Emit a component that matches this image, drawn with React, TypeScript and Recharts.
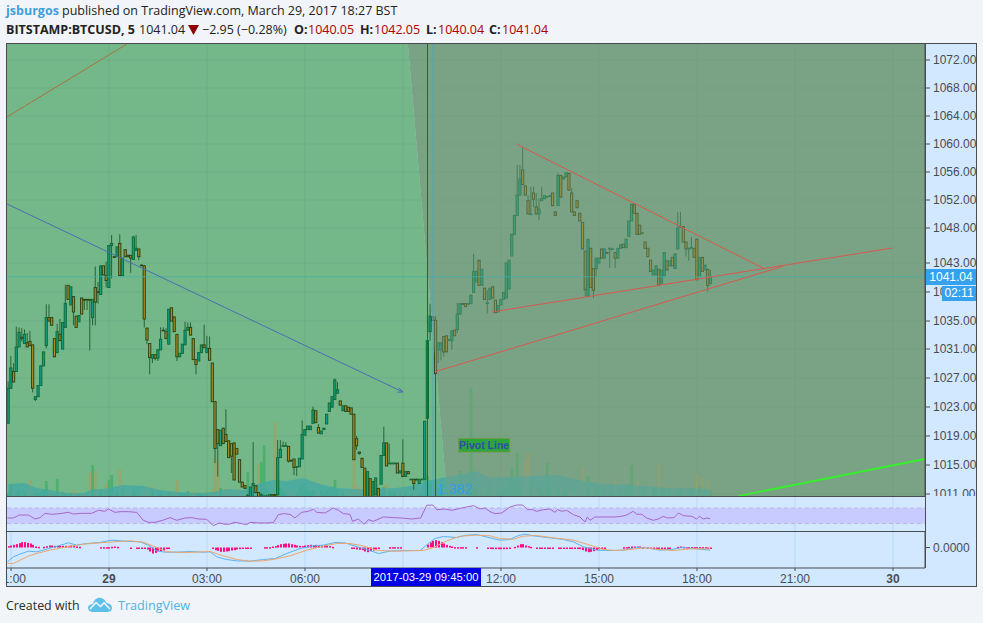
import React from "react";
import { ComposedChart, Line, Area, Bar, XAxis, YAxis, CartesianGrid, ReferenceLine, ReferenceArea, ReferenceDot } from "recharts";

const opens = [
1020.1,1025.1,1027.5,1027.5,1031,1032.4,1031.5,1031.6,1031.8,1031.3,
1023.5,1023.9,1025.5,1028.3,1031.2,1035.2,1035.2,1032.2,1030.2,1032.8,
1030.7,1033.8,1039.8,1037,1038.2,1035.4,1034.6,1038,1037.8,1037.8,
1037.8,1035.2,1039.5,1038.9,1038.5,1042.6,1041.2,1039.5,1045.5,1043.9,
1043.9,1045.8,1041.2,1044.9,1044.1,1044.1,1043.5,1044.8,1045,1042.7,
1042.6,1033.7,1031.5,1029.4,1029.9,1029.4,1030.6,1033.4,1033.2,1031.4,
1036.6,1035.3,1032.8,1029.6,1030.1,1031.3,1033.4,1033.8,1032.2,1029.2,
1029,1030.2,1031.3,1030.2,1030.8,1028.7,1023.2,1019.2,1016.9,1019.4,
1018.5,1017.6,1017.2,1017.3,1016.5,1014.9,1011.7,1011.2,1009.7,1009.6,
1011.2,1011.2,1010.2,1009.9,1009.7,1009.7,1009.6,1009.9,1009.9,1009.9,
1015.2,1016.9,1016.9,1016.8,1014.8,1015,1013.9,1013.9,1015,1018.4,
1019.2,1019.2,1020.1,1021.9,1019.5,1018.6,1019.2,1020,1021.8,1022.4,
1023.5,1024.4,1023.3,1021.9,1022.6,1022.4,1022.3,1021.4,1017.9,1016,
1015.1,1013.7,1009.6,1012.2,1009.6,1009.9,1010.8,1011.4,1015.5,1017.3,
1014.4,1014.4,1014.4,1014.4,1013,1014.4,1012.5,1013.2,1012.1,1012.1,
1012.1,1011.5,1012.1,1012.1,1020.8,1033.2,1035.3,1034.8,1030.6,1030.6,
1032.5,1032.6,1031.9,1031.9,1033.4,1033.5,1035.7,1037.2,1037.2,1037.2,
1037.2,1038.8,1040.3,1043.4,1039.8,1039.4,1037.3,1037.8,1039.6,1037.7,
1036,1037,1037.8,1038,1039.3,1044,1047.1,1049.8,1052.7,1056.3,
1054,1051.9,1050,1053,1051,1050,1051.9,1052.2,1052.5,1052.6,
1053,1050.3,1051.2,1055.5,1055,1055.3,1055.8,1053,1050.3,1051.9,
1050.1,1048.8,1044.7,1038.2,1045.1,1042.2,1042.2,1043,1045,1043.7,
1044.5,1045.1,1045,1044.5,1043.7,1045.1,1045.7,1045.2,1046.8,1049,
1051.4,1050.1,1048.4,1047.3,1046,1045.1,1043.4,1041.3,1041.3,1042.1,
1040.1,1041.2,1043.3,1042.6,1043.8,1042.2,1045,1048.2,1048.2,1046,
1045.1,1045.2,1045.1,1046.4,1041.1,1043.8,1042,1042.1,1040.05];

const closes = [
1025.1,1028,1026,1031,1033.1,1032.2,1032.8,1031,1031.2,1025.1,
1023.9,1025.5,1028.3,1030.3,1035.2,1034.7,1034.1,1029.6,1033.2,1031.9,
1034.5,1037.2,1037.8,1039.6,1036,1033.8,1035.5,1035.7,1037.7,1037.7,
1037.7,1037.8,1037.4,1038.8,1042.6,1041.3,1040.5,1045.5,1045.8,1043.8,
1045.3,1041.2,1043.7,1043.9,1043.9,1043.7,1046.7,1045.1,1043.9,1042.6,
1035,1032,1029.5,1029.9,1029.4,1030.6,1032.1,1033.3,1032.2,1036.4,
1034.7,1033.2,1029.6,1030.1,1031.4,1033.4,1033.8,1032.7,1029.2,1028.5,
1030.2,1031.3,1030.9,1030.8,1029.1,1023.2,1016.5,1017.2,1019.1,1017.2,
1017.5,1015.2,1015.4,1012,1015.7,1011.7,1011,1010.8,1009.8,1011,
1011.5,1010.2,1009.6,1009.9,1009.7,1009.7,1009.9,1009.7,1009.8,1015.2,
1016.4,1016.9,1016.9,1014.7,1014.7,1013.8,1013.9,1015.1,1018.5,1019.2,
1019.7,1019.7,1022,1020.2,1018.7,1019,1019.4,1021.4,1023,1023.9,
1026.3,1024.9,1022.7,1022.6,1021.8,1021.8,1021.4,1014.9,1016.9,1015.8,
1013.8,1009.6,1013.2,1009.6,1011.8,1012.3,1009.6,1015.5,1017.3,1014,
1014.4,1014.4,1014.4,1013,1013.3,1012.5,1013.2,1012.9,1012.1,1011.5,
1012,1012.1,1012.1,1020.4,1031.9,1035.4,1034.8,1027.2,1031.6,1031.6,
1030.3,1030.3,1032.1,1033.3,1032.6,1035.7,1037.2,1037.1,1036.8,1037.2,
1038.4,1041.8,1041.8,1039.8,1042.1,1037.8,1037.3,1039.4,1038,1035.9,
1036.9,1037.8,1038.8,1043,1043.4,1047.1,1049.8,1052.7,1055,1054.2,
1052.7,1050,1050,1052.1,1050,1050.7,1052.2,1052.6,1052.5,1052.6,
1051.2,1049.8,1055.5,1052.4,1055.3,1055.9,1053.4,1050.3,1049.8,1050.9,
1049,1045,1039.2,1046.4,1039.5,1039.1,1043.7,1043.7,1043.7,1045,
1044.4,1045.1,1045,1043.7,1045.1,1045.6,1045.2,1046.4,1049,1051.4,
1050.1,1047.1,1047.1,1047.3,1045.1,1043.9,1041.8,1042,1042.6,1039.8,
1042,1044.5,1042,1043.3,1042.6,1044.3,1048,1048.2,1046,1045,
1045.1,1045.2,1043.8,1040.6,1043.8,1041.8,1042.7,1039.8,1041.04];

const highs = [
1026.1,1029.7,1028.7,1033.9,1033.8,1033.7,1033.5,1033,1033.3,1031.3,
1023.9,1025.5,1028.3,1030.3,1037.1,1037.1,1035.2,1032.2,1034.3,1035,
1034.5,1039.9,1039.8,1039.6,1038.2,1035.4,1035.5,1038,1037.8,1037.8,
1037.8,1037.8,1042.5,1040.3,1042.6,1042.6,1043.2,1045.5,1047,1044,
1045.3,1047.1,1043.7,1044.9,1044.1,1044.1,1046.9,1047,1045,1042.8,
1042.7,1033.7,1031.5,1029.9,1029.9,1030.6,1033.8,1033.8,1033.7,1036.4,
1036.6,1035.3,1032.8,1030.1,1031.4,1034.6,1034.5,1034.5,1032.2,1029.2,
1030.2,1031.3,1034.2,1032.6,1032.5,1028.7,1023.2,1019.2,1019.1,1019.4,
1022.1,1017.6,1017.2,1017.3,1016.5,1014.9,1011.7,1011.2,1010,1011,
1017.4,1011.2,1010.2,1010.1,1009.9,1009.9,1009.9,1009.9,1010,1017.7,
1017.7,1017.5,1017.4,1016.8,1014.9,1015,1014,1015.1,1020.5,1019.2,
1019.7,1019.7,1022.5,1021.9,1020,1019,1019.4,1021.4,1023,1023.9,
1026.5,1026,1023.3,1022.6,1022.6,1022.4,1022.3,1021.4,1018.3,1016,
1015.1,1013.7,1013.2,1012.2,1011.8,1012.3,1010.8,1015.5,1019.6,1017.3,
1017.2,1014.5,1014.5,1014.4,1013.3,1017.8,1013.2,1013.2,1012.2,1012.1,
1012.2,1012.1,1012.2,1020.4,1031.9,1037.2,1035.3,1035.4,1031.6,1031.6,
1032.5,1032.6,1032.1,1033.3,1033.4,1037.3,1037.2,1037.3,1037.2,1037.3,
1038.4,1044.3,1041.8,1043.4,1042.1,1039.4,1039.1,1039.4,1039.6,1037.7,
1036.9,1037.8,1038.8,1043,1043.4,1047.1,1049.8,1057,1057,1059.5,
1054,1052.7,1053.9,1053.9,1053,1052.2,1053.9,1052.6,1052.6,1052.7,
1053,1050.3,1055.9,1055.5,1055.3,1055.9,1055.8,1053.7,1050.3,1051.9,
1050.1,1048.8,1044.7,1046.4,1045.1,1042.2,1043.7,1043.7,1045,1045,
1044.6,1045.2,1045.1,1044.5,1045.1,1045.6,1045.7,1046.4,1049,1051.4,
1051.4,1050.1,1048.4,1047.4,1046,1045.1,1043.4,1042,1042.6,1042.1,
1042,1044.5,1043.3,1043.3,1043.8,1044.3,1050.3,1050.3,1048.2,1046,
1045.2,1046.7,1045.1,1046.4,1043.8,1043.8,1042.7,1042.1,1042.05];

const lows = [
1020.1,1025.1,1026,1027.5,1031,1031.8,1031.5,1031,1031.2,1024.5,
1023.3,1023.9,1025.5,1028.3,1030.8,1034.7,1034.1,1029.6,1030.2,1031.9,
1030.7,1033.8,1037.8,1037,1034.1,1033.8,1034.6,1035.7,1036.3,1036.3,
1030.5,1034.1,1034.1,1037.2,1038.5,1041.3,1039.5,1039.5,1040.8,1043.8,
1043.9,1041.2,1041.2,1043.9,1043.9,1041.6,1043.5,1044.8,1043.4,1042.6,
1033.8,1031.4,1027.1,1028.7,1029.1,1029,1030.6,1033.3,1032.2,1031.4,
1034.7,1033.2,1029,1029.6,1030.1,1031.3,1033.4,1032.7,1029.2,1027.1,
1029,1030.2,1030.9,1030.2,1029.1,1023.2,1014.4,1012.5,1016.9,1017.2,
1017.5,1015.2,1013,1012,1015.7,1011.7,1011,1010.8,1009.6,1009.6,
1009.6,1010.2,1009.6,1009.7,1009.6,1009.6,1009.6,1009.7,1009.7,1009.8,
1015.2,1016.8,1016.8,1014.5,1014.7,1012.7,1012.6,1013.9,1015,1018.4,
1019.2,1019.2,1020.1,1020.2,1018.7,1018.6,1019.2,1020,1021.8,1022.4,
1023.5,1024.4,1022.7,1021.9,1021.8,1021.8,1021.4,1014.9,1016.3,1015.6,
1013.8,1009.6,1009.6,1009.6,1009.6,1009.9,1009.6,1011.4,1015.5,1014,
1014.3,1014.3,1014.3,1013,1013,1012.5,1012.5,1012.9,1012,1010.6,
1012,1011.5,1012,1012.1,1020.8,1031.9,1034.8,1009.7,1028.7,1029.1,
1029.6,1030.3,1031.9,1030.6,1032.6,1033,1035.7,1037.1,1036.8,1037.1,
1037.2,1038.8,1040.3,1039.8,1039.8,1037.8,1035.8,1037.8,1038,1035.9,
1036,1037,1037.8,1038,1039.3,1044,1047.1,1049.8,1052.7,1054.2,
1052.7,1050,1049.9,1051,1050,1049.1,1051.9,1052.2,1052.4,1052.5,
1051.2,1049.8,1051.2,1052.4,1055,1055.3,1053.4,1050.3,1049.8,1050.9,
1049,1045,1038.2,1038.2,1039.5,1038,1041,1043,1043.7,1043.7,
1044.4,1042.3,1044.9,1042.3,1043.7,1045.1,1045.2,1045.2,1046.8,1049,
1050.1,1047.1,1047.1,1047.2,1045.1,1043.9,1041.8,1041.3,1041.3,1039.8,
1040.1,1041.2,1042,1042.6,1042.6,1042.2,1045,1048.1,1046,1043.9,
1043.3,1045.1,1043.8,1040.6,1041.1,1041.8,1042,1038.9,1040.04];

const volumes = [
3,11,5,4,6,3,4,2,16,5,
3,2,4,6,15,4,2,5,17,3,
4,2,3,3,5,4,2,3,2,1,
23,31,26,6,5,4,13,16,21,3,
5,27,7,4,2,3,6,2,3,1,
8,5,10,5,3,2,4,2,3,3,
4,3,16,3,2,2,5,3,4,4,
3,2,4,3,3,6,39,36,8,5,
8,6,4,5,7,5,3,4,24,6,
4,3,33,34,51,7,5,4,74,25,
8,5,4,6,3,6,4,9,12,7,
5,4,6,3,2,6,3,5,7,9,
16,6,4,3,5,4,6,36,10,8,
7,26,8,14,6,5,4,7,9,12,
5,3,4,6,3,8,3,2,2,6,
3,2,3,18,20,12,9,15,8,6,
7,5,4,6,5,6,25,5,4,6,
108,9,6,5,4,8,5,6,7,17,
6,5,4,8,12,28,10,43,9,6,
37,43,12,6,5,7,4,3,33,6,
5,7,8,12,6,4,9,5,4,6,
9,29,14,20,10,8,7,5,4,6,
3,2,3,17,5,6,3,8,12,31,
10,14,6,5,3,4,9,7,8,32,
6,5,9,7,4,3,5,6,4,6,
3,8,6,23,9,18,5,15,6];

const macdHist = [
.4,.6,.8,1,1.3,1.6,1.6,1.4,1.2,.8,
.3,.2,0,.2,.4,.6,.6,.5,.5,.5,
.5,.5,.5,.6,.5,.3,.2,0,0,0,
0,0,0,0,.1,.1,.1,.1,.2,.3,
.2,0,0,0,0,-.1,0,-.1,-.1,-.1,
-.2,-.6,-1.2,-1.8,-1.6,-1.2,-1.2,-.9,-.5,-.2,
0,0,0,0,0,0,0,0,0,0,
0,0,0,0,0,-.4,-.8,-1,-1.3,-1.3,
-1.2,-1.1,-.9,-.8,-.6,-.5,-.4,-.3,-.2,-.1,
0,0,0,0,.1,.1,.1,.3,.4,.7,
1,1.1,1.2,1.2,1,.8,.6,.5,.4,.6,
.7,.8,.7,.8,.7,.6,.6,.5,.4,.2,
0,0,0,0,0,0,-.2,-.4,-.6,-.7,
-.8,-1.2,-1.4,-1.1,-.9,-.6,-.3,0,0,0,
.1,.1,.1,.1,.1,0,0,0,0,0,
0,0,0,0,.9,1.5,2,2.2,2,1.6,
1.2,.8,.5,.3,.1,.1,.1,.1,.1,0,
0,0,.1,0,0,0,-.1,-.4,-.5,-.5,
-.5,-.5,-.5,-.5,-.2,0,.2,.6,1,1,
.6,.4,.2,0,-.2,-.2,-.2,-.2,-.2,-.2,
-.2,0,-.1,-.1,-.1,-.1,-.2,-.3,-.4,-.4,
-.5,-.8,-1.2,-1.4,-1.3,-1.1,-.8,-.5,-.3,-.2,
0,0,0,0,0,0,.1,.1,.2,.3,
.3,.3,.3,.1,0,-.2,-.2,-.3,-.4,-.4,
-.3,-.3,-.3,-.2,0,0,.2,.3,.2,.1,
.1,.1,.1,.1,.1,.1,.1,-.1,-.1];

const volMaX = [-37,-31,-26.6,-21.7,-15.6,-9.4,-5.7,-2,1.5,5.2,12.6,18.7,24.9,33.4,38.3,43.2,49.3,55.5,60.4,65.2,71.4,76.2,83.6,91,97,105.5,110.6,116.7,124,126.5,134.5,140,146,155.8,164.4,170.6,180.4,192.6,204.8,220.8];
const volMaY = [12,13,8,6,3,3,7,7,9,11,10,6,4,3,4,7,6,13,16,15,18,13,8,7,7,8,10,15,19,20,25,18,19,20,21,17,12,11,8,7];

const rsiX = [-37.3,-35.1,-33,-29.6,-27.2,-25.3,-23.5,-21,-18,-14.9,-13.1,-10,-6.4,-3.9,-1.5,-0.2,2.2,4.1,7.1,10.2,12.6,14.5,16.9,20,22.4,24.9,27.9,30.4,32.8,35.9,38.3,40.5,42.6,44.5,46.3,48.7,50.6,51.8,54.9,57.9,60.4,62.2,64.1,66.5,68.3,70.8,73.2,75.1,76.3,79.4,82.4,84.3,86.1,88.5,89.5,91.6,93.7,95.3,97.1,100.8,104.5,107.5,111.2,114.5,116.7,119,120.4,123.4,125.9,129.6,133.9,136.3,138.1,140,141.8,144.3,147.3,149.8,152,153.7,155.6,157.1,159.6,162,163.8,164.8,166.3,168.1,170.6,173,174.9,175.7,176.7,178.5,185.9,188.3,190.2,192.6,193.9,195.7,197.5,200,201.8,203.6,205.1,207.6,209.2,211,214.1,215.9,216.9,218.3,219.6,220.8];
const rsiY = [44.2,44.2,51.9,51.9,41.6,45.1,56.2,53.7,55.4,58.8,54.5,56.2,56.2,64,61.4,67.4,58.8,60.5,60.5,58.8,38.2,33,33,39,45.1,38.2,44.2,45.1,41.6,40.8,24.4,31.3,27.9,28.7,33,29.6,27,33,31.3,31.3,32.2,52.8,55.4,53.7,44.2,58.8,61.4,66.6,58.8,57.1,70,64,55.4,53.7,35.6,41.6,27.9,39.9,35.6,46.8,45.1,44.2,41.6,44.2,76.9,77.7,65.7,67.4,64,70,76,67.4,70,60.5,55.4,57.1,72.6,77.7,77.7,65.7,65.7,61.4,65.7,67.4,58.8,65.7,61.4,64,52.8,46.8,33.9,46.8,38.2,46.8,46.8,48.5,52,61.4,53.7,53.7,44.2,38.2,41.6,48.5,44.2,45.1,57.1,50.2,48.5,41.6,48.5,41.6,44.2,42.5];

const macdX = [-37.3,-35.1,-32.7,-29.6,-26.6,-24.1,-21.7,-18.6,-14.9,-11.9,-8.2,-3.3,1,5.9,11.4,14.5,17.5,20.6,24.9,29.8,34.7,37.1,39.6,43.2,46.9,51.8,56.7,61,65.3,70.2,75.1,78.7,83,86.7,90.4,94.7,99,103.2,108.1,114.3,117.3,119.8,122.8,127.7,131.4,135.1,140,143.6,147.3,150.4,152.8,155.9,162,166.9,170.6,174.3,179.2,184.1,189,193.9,197.5,202.4,206.7,210.4,215.9,220.8];
const macdY = [-4.3,-2.8,-2,-1.1,-1.3,-.8,-.2,.5,1.4,.7,1.2,1.5,2.2,1.9,1.7,.7,-1,-1.4,-1.4,-1.2,-1.4,-1.3,-2.8,-3.6,-4,-4.1,-3.6,-3.3,-1.8,-.3,.5,.7,1.5,1.4,.4,-.6,-1.8,-1.1,-.9,-.9,1.2,2.7,3.3,3,3.7,3.9,2.9,2.2,2.4,3.6,4,3.5,2.9,2.4,1.7,.2,-.8,-.9,-.8,0,-.1,-.8,-.6,0,-.4,-.8];
const signalX = [-37.3,-35.1,-32.7,-29.6,-26.6,-21.7,-15.5,-9.4,-3.3,1.6,7.7,12.6,17.5,21.2,28.5,37.1,42,46.9,51.8,56.7,61.6,66.5,72.6,78.7,83.6,88.5,93.4,98.3,104.5,115.5,119.2,124.1,129,135.1,140,143.6,148.5,152.2,157.1,163.2,170.6,176.7,181.6,186.5,191.4,196.3,201.2,207.3,213.4,220.8];
const signalY = [-4.8,-4.8,-3.8,-2.6,-1.8,-.8,.2,1,1.4,1.7,2,1.6,0,-1.3,-1.5,-1.2,-2.5,-3.6,-4.1,-4,-3.4,-2.5,-.8,.4,1.2,1.2,.5,-.8,-1.1,-.9,0,2,3.4,3.7,3.5,2.7,2.5,3.4,3.6,2.9,2.2,.7,-.6,-.9,-.6,-.1,-.5,-.9,-.4,-.4];

const priceTicks = [1072,1068,1064,1060,1056,1052,1048,1043,1038.86,1034.71,1030.71,1026.57,1022.43,1018.29,1014.14,1010];
const priceLabels = ["1072.00","1068.00","1064.00","1060.00","1056.00","1052.00","1048.00","1043.00","1039.00","1035.00","1031.00","1027.00","1023.00","1019.00","1015.00","1011.00"];
const timeTicks = [-36,0,36,72,108,144,180,216,252,288];
const timeLabels = ["21:00","29","03:00","06:00","","12:00","15:00","18:00","21:00","30"];

const xDomain: [number, number] = [-37.47, 299.76];
const priceDomain: [number, number] = [1009.714, 1074.286];
const rsiDomain: [number, number] = [10.6, 98.4];
const macdDomain: [number, number] = [-6.15, 4.65];

const brownLine = [{ i: -37.47, p: 1063.86 }, { i: 6.6, p: 1074.29 }];
const blueLine = [{ i: -37.47, p: 1051.43 }, { i: 108, p: 1024.57 }];
const arrowWingA = [{ i: 106.4, p: 1025.17 }, { i: 108, p: 1024.57 }];
const arrowWingB = [{ i: 105.9, p: 1024.55 }, { i: 108, p: 1024.57 }];
const fallingLine = [{ i: 149.8, p: 1059.96 }, { i: 241, p: 1042.14 }];
const risingLineA = [{ i: 140.7, p: 1036 }, { i: 287.7, p: 1045.14 }];
const risingLineB = [{ i: 120.1, p: 1027.5 }, { i: 247.6, p: 1042.53 }];
const greenLine = [{ i: 231.1, p: 1009.71 }, { i: 299.76, p: 1015 }];

const greenRegion = [
  { i: -37.47, band: [1009.714, 1074.286] },
  { i: 109.8, band: [1009.714, 1074.286] },
  { i: 124.2, band: [1009.714, 1009.714] },
];
const grayRegion = [
  { i: 109.8, band: [1074.286, 1074.286] },
  { i: 124.2, band: [1009.714, 1074.286] },
  { i: 299.76, band: [1009.714, 1074.286] },
];

const rows = opens.map((o, k) => ({
  i: k - 37, open: o, high: highs[k], low: lows[k], close: closes[k],
  range: [lows[k], highs[k]], vol: volumes[k], hist: macdHist[k] === 0 ? null : macdHist[k],
}));
const volMa = volMaX.map((i, k) => ({ i, v: volMaY[k] }));
const rsi = rsiX.map((i, k) => ({ i, v: rsiY[k] }));
const macd = macdX.map((i, k) => ({ i, v: macdY[k] }));
const signal = signalX.map((i, k) => ({ i, v: signalY[k] }));

const GREEN_BG = "#74b78a";
const GRAY_BG = "#7aa285";
const AXIS_BG = "#d1e8ff";
const DARK = "#4a4d50";
const FONT = "'Liberation Sans', Arial, sans-serif";
const UI = "'Open Sans', sans-serif";

const Candle = (props: any) => {
  const { x, y, width, height, payload } = props;
  const { open, close, high, low } = payload;
  const ratio = height / (high - low || 1);
  const at = (p: number) => y + (high - p) * ratio;
  const cx = x + width / 2;
  const up = close >= open;
  const top = at(Math.max(open, close));
  const bot = at(Math.min(open, close));
  return (
    <g>
      <line x1={cx} x2={cx} y1={at(high)} y2={at(low)} stroke="#235f33" strokeWidth={1} />
      <rect
        x={cx - 1.1}
        y={top}
        width={2.2}
        height={Math.max(bot - top, 0.6)}
        fill={up ? "#0f9a80" : "#b08a1e"}
        stroke={up ? "#0a6a34" : "#2a3e10"}
        strokeWidth={1}
      />
    </g>
  );
};

const VolBar = (props: any) => {
  const { x, y, width, height, payload } = props;
  const up = payload.close >= payload.open;
  return <rect x={x} y={y} width={width} height={height} fill={up ? "#3fae62" : "#a6a060"} fillOpacity={0.75} />;
};

const HistBar = (props: any) => {
  const { x, y, width, height } = props;
  const h = Math.abs(height);
  if (!isFinite(x) || !isFinite(y)) return null;
  const top = Math.min(y, y + height);
  return <rect x={Math.floor(x + width / 2)} y={top} width={2} height={Math.max(h, 1.5)} fill="#ff0f80" />;
};

const TimeTick = (props: any) => {
  const { x, y, payload } = props;
  const label = timeLabels[timeTicks.indexOf(payload.value)];
  const bold = label === "29" || label === "30";
  return (
    <text x={x} y={y + 10} textAnchor="middle" fontFamily={FONT} fontSize={12} fontWeight={bold ? 700 : 400} fill="#4a4d50">
      {label}
    </text>
  );
};

const PivotLabel = (props: any) => {
  const { cx, cy } = props;
  return (
    <g>
      <rect x={cx - 25.5} y={cy - 6.5} width={51} height={13.5} fill="#2ea53a" stroke="#6f9a45" strokeWidth={1} />
      <text x={cx} y={cy + 4} textAnchor="middle" fontFamily={FONT} fontSize={10.5} fontWeight={700} fill="#2c50a8">Pivot Line</text>
    </g>
  );
};

const FibLabel = (props: any) => {
  const { cx, cy } = props;
  return <text x={cx} y={cy + 5} fontFamily={FONT} fontSize={14} fill="#2f9fee">1.382</text>;
};

const Layer = ({ children, data, domain }: any) => (
  <div style={{ position: "absolute", left: 7, top: 44, width: 969, height: 452 }}>
    <ComposedChart width={969} height={452} data={data} margin={{ top: 0, right: 51, bottom: 0, left: 0 }}>
      <XAxis type="number" dataKey="i" domain={xDomain} allowDataOverflow hide />
      <YAxis type="number" domain={domain || priceDomain} allowDataOverflow hide />
      {children}
    </ComposedChart>
  </div>
);

const seg = (data: any, color: string, w = 1) => (
  <Line data={data} dataKey="p" stroke={color} strokeWidth={w} dot={false} activeDot={false} isAnimationActive={false} />
);

const Txt = ({ x, y, color, bold, children, size }: any) => (
  <span style={{ position: "absolute", left: x, top: y, fontFamily: UI, fontSize: size || 12.5, fontWeight: bold ? 700 : 400, color: color || "#222", whiteSpace: "nowrap", lineHeight: "17px" }}>{children}</span>
);

const PriceTag = ({ left, top, width, height, children, bg, size }: any) => (
  <div style={{ position: "absolute", left, top, width, height, background: bg || "#36a2ef", color: "#fff", fontFamily: FONT, fontSize: size || 12, lineHeight: `${height}px`, textAlign: "center", whiteSpace: "nowrap" }}>{children}</div>
);

export default function App() {
  return (
    <div style={{ position: "absolute", left: 0, top: 0, width: 983, height: 623, background: "#f1f4f8", overflow: "hidden" }}>
      <Txt x={6} y={2} color="#3d9fe0" bold>jsburgos</Txt>
      <Txt x={62} y={2}>published on TradingView.com, March 29, 2017 18:27 BST</Txt>
      <Txt x={6} y={21} bold>BITSTAMP:BTCUSD, 5</Txt>
      <Txt x={139} y={21}>1041.04</Txt>
      <svg style={{ position: "absolute", left: 188, top: 25 }} width={11} height={10}>
        <path d="M0 0 L11 0 L5.5 10 Z" fill="#8b0000" />
      </svg>
      <Txt x={202} y={21}>−2.95 (−0.28%)</Txt>
      <Txt x={294} y={21} bold>O:</Txt>
      <Txt x={308} y={21} color="#a80000">1040.05</Txt>
      <Txt x={360} y={21} bold>H:</Txt>
      <Txt x={374} y={21} color="#a80000">1042.05</Txt>
      <Txt x={426} y={21} bold>L:</Txt>
      <Txt x={438} y={21} color="#a80000">1040.04</Txt>
      <Txt x={489} y={21} bold>C:</Txt>
      <Txt x={502} y={21} color="#a80000">1041.04</Txt>

      <div style={{ position: "absolute", left: 7, top: 44, width: 969, height: 542, background: AXIS_BG }} />

      <Layer>
        <Area data={greenRegion} dataKey="band" stroke="none" fill={GREEN_BG} fillOpacity={1} dot={false} activeDot={false} isAnimationActive={false} />
        <Area data={grayRegion} dataKey="band" stroke="none" fill={GRAY_BG} fillOpacity={1} dot={false} activeDot={false} isAnimationActive={false} />
      </Layer>
      <Layer>
        <CartesianGrid stroke="#5a9a78" strokeOpacity={0.25} horizontalValues={priceTicks} verticalValues={timeTicks} />
      </Layer>
      <Layer data={rows} domain={[0, 452]}>
        <Bar dataKey="vol" barSize={2.7} shape={<VolBar />} isAnimationActive={false} />
      </Layer>
      <Layer domain={[0, 452]}>
        <Area data={volMa} dataKey="v" stroke="none" fill="#3fa8a8" fillOpacity={0.75} dot={false} activeDot={false} isAnimationActive={false} />
      </Layer>
      <Layer data={rows}>
        <Bar dataKey="range" barSize={3} shape={<Candle />} isAnimationActive={false} />
      </Layer>
      <Layer>
        <Area data={greenRegion} dataKey="band" stroke="none" fill={GREEN_BG} fillOpacity={0.06} dot={false} activeDot={false} isAnimationActive={false} />
        <Area data={grayRegion} dataKey="band" stroke="none" fill={GRAY_BG} fillOpacity={0.45} dot={false} activeDot={false} isAnimationActive={false} />
      </Layer>
      <div style={{ position: "absolute", left: 7, top: 44, width: 969, height: 452 }}>
        <ComposedChart width={969} height={452} margin={{ top: 0, right: 0, bottom: 0, left: 0 }} data={rows}>
          <XAxis type="number" dataKey="i" domain={xDomain} allowDataOverflow hide />
          <YAxis
            type="number"
            orientation="right"
            width={51}
            domain={priceDomain}
            allowDataOverflow
            ticks={priceTicks}
            interval={0}
            tickSize={5}
            tickMargin={3}
            tickFormatter={(v: number) => priceLabels[priceTicks.indexOf(v)]}
            tick={{ fill: "#4a4d50", fontSize: 12, fontFamily: FONT }}
            axisLine={{ stroke: DARK }}
            tickLine={{ stroke: DARK }}
          />
          <ReferenceLine y={1041.04} stroke="#3fb0a8" strokeOpacity={0.7} />
          <ReferenceLine x={117} stroke="#2a4f9e" />
          <ReferenceLine x={119} stroke="#4aa6c8" strokeOpacity={0.8} />
          {seg(brownLine, "#a8733f")}
          {seg(blueLine, "#4a6fb0")}
          {seg(arrowWingA, "#4a6fb0")}
          {seg(arrowWingB, "#4a6fb0")}
          {seg(fallingLine, "#d9584f")}
          {seg(risingLineA, "#d9584f")}
          {seg(risingLineB, "#d9584f")}
          {seg(greenLine, "#35f02a", 1.8)}
          <ReferenceDot x={137.8} y={1017} r={0} shape={<PivotLabel />} />
          <ReferenceDot x={120.5} y={1010.7} r={0} shape={<FibLabel />} />
        </ComposedChart>
      </div>

      <div style={{ position: "absolute", left: 7, top: 497, width: 969, height: 34 }}>
        <ComposedChart width={969} height={34} margin={{ top: 0, right: 51, bottom: 0, left: 0 }} data={rows}>
          <XAxis type="number" dataKey="i" domain={xDomain} allowDataOverflow hide />
          <YAxis type="number" domain={rsiDomain} allowDataOverflow hide />
          <CartesianGrid stroke="#a9cdf2" strokeOpacity={0.6} horizontal={false} verticalValues={timeTicks} />
          <ReferenceArea y1={30} y2={70} fill="#c7cbff" fillOpacity={1} stroke="none" />
          <ReferenceLine y={70} stroke="#bdb6e0" strokeDasharray="4 3" />
          <ReferenceLine y={30} stroke="#bdb6e0" strokeDasharray="4 3" />
          <Line data={rsi} dataKey="v" stroke="#a667c8" strokeWidth={1} dot={false} activeDot={false} isAnimationActive={false} />
        </ComposedChart>
      </div>

      <div style={{ position: "absolute", left: 7, top: 532, width: 969, height: 54 }}>
        <ComposedChart width={969} height={54} margin={{ top: 0, right: 0, bottom: 0, left: 0 }} data={rows}>
          <XAxis
            type="number"
            dataKey="i"
            domain={xDomain}
            allowDataOverflow
            ticks={timeTicks}
            interval={0}
            height={18}
            tickSize={3}
            tick={<TimeTick />}
            axisLine={{ stroke: DARK }}
            tickLine={{ stroke: DARK }}
          />
          <YAxis
            type="number"
            orientation="right"
            width={51}
            domain={macdDomain}
            allowDataOverflow
            ticks={[0]}
            tickSize={5}
            tickMargin={3}
            tickFormatter={() => "0.0000"}
            tick={{ fill: "#4a4d50", fontSize: 12, fontFamily: FONT }}
            axisLine={{ stroke: DARK }}
            tickLine={{ stroke: DARK }}
          />
          <CartesianGrid stroke="#a9cdf2" strokeOpacity={0.6} horizontal={false} verticalValues={timeTicks} />
          <Bar dataKey="hist" barSize={2} shape={<HistBar />} isAnimationActive={false} />
          <Line data={macd} dataKey="v" stroke="#5ab4f5" strokeWidth={1} dot={false} activeDot={false} isAnimationActive={false} />
          <Line data={signal} dataKey="v" stroke="#f0a56a" strokeWidth={1} dot={false} activeDot={false} isAnimationActive={false} />
        </ComposedChart>
      </div>

      <div style={{ position: "absolute", left: 6, top: 496, width: 919, height: 1, background: DARK }} />
      <div style={{ position: "absolute", left: 6, top: 531, width: 919, height: 1, background: DARK }} />
      <div style={{ position: "absolute", left: 925, top: 44, width: 1, height: 524, background: DARK }} />
      <div style={{ position: "absolute", left: 6, top: 43, width: 969, height: 542, border: `1px solid ${DARK}`, pointerEvents: "none" }} />

      <PriceTag left={926} top={269} width={50} height={16}>1041.04</PriceTag>
      <PriceTag left={942} top={286} width={34} height={15}>02:11</PriceTag>
      <PriceTag left={371} top={568} width={110} height={18} bg="#0000e6" size={11.3}>2017-03-29 09:45:00</PriceTag>

      <Txt x={6} y={597} size={12.4} color="#2b2b2b">Created with</Txt>
      <svg style={{ position: "absolute", left: 87, top: 596 }} width={26} height={17} viewBox="0 0 26 17">
        <path d="M1 12 C1 9 4 8 6 8 C7 3 11 1 14 2 C18 3 19 6 19 7 C23 7 25 10 25 12 C25 15 22 16 20 16 L6 16 C3 16 1 14 1 12 Z" fill="#5cc0ea" />
        <path d="M3 13 L9 6.5 L13.5 10.5 L17 7 L23 13" fill="none" stroke="#f1f4f8" strokeWidth={1.6} />
      </svg>
      <Txt x={118} y={597} size={12.6} color="#4db3e6">TradingView</Txt>
    </div>
  );
}
